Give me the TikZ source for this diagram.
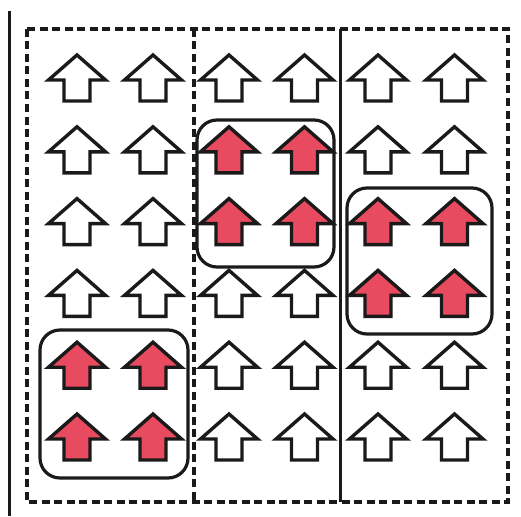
\documentclass[tikz,border=0pt]{standalone}
\definecolor{arrowred}{HTML}{E84B5F}
\definecolor{ink}{HTML}{1A1A1A}
\tikzset{
  x=1pt, y=-1pt,
  dashframe/.style={draw=ink, line width=3.4pt, dash pattern=on 8pt off 4.5pt},
  solidline/.style={draw=ink, line width=3pt},
  groupbox/.style={draw=ink, line width=3.2pt, rounded corners=20pt},
  pics/uparrow/.style={code={
    \draw[ink, line width=3.4pt, line join=miter, fill=#1]
      (0,0) -- (28.5,25) -- (13,25) -- (13,46) -- (-13,46) -- (-13,25) -- (-28.5,25) -- cycle;
  }},
}
\begin{document}
\begin{tikzpicture}
\useasboundingbox (0,0) rectangle (521,516);
% left solid line
\coordinate (lt) at (9.5,11);
\coordinate (lb) at (9.5,516);
\draw[solidline, line width=2.6pt] (lt) -- (lb);
% frame
\coordinate (ftl) at (27,29);
\coordinate (fbr) at (508,502);
\draw[dashframe] (ftl) rectangle (fbr);
\coordinate (d1t) at (194,29);
\coordinate (d1b) at (194,502);
\draw[dashframe] (d1t) -- (d1b);
\coordinate (d2t) at (340,29);
\coordinate (d2b) at (340,502);
\draw[solidline] (d2t) -- (d2b);
% arrows
\foreach \cx [count=\i] in {77,153,229,304.5,378,454.5}{
  \foreach \ty [count=\j] in {55,126.8,198.6,270.4,342.2,414}{
    \def\fc{white}
    \ifnum\i<3 \ifnum\j>4 \def\fc{arrowred}\fi\fi
    \ifnum\i>2 \ifnum\i<5 \ifnum\j>1 \ifnum\j<4 \def\fc{arrowred}\fi\fi\fi\fi
    \ifnum\i>4 \ifnum\j>2 \ifnum\j<5 \def\fc{arrowred}\fi\fi\fi
    \pic (a\i\j) at (\cx,\ty) {uparrow=\fc};
  }
}
% group boxes
\node[groupbox, minimum width=137pt, minimum height=147pt, inner sep=0pt] (gmid) at (265.5,193.5) {};
\node[groupbox, minimum width=145pt, minimum height=146pt, inner sep=0pt] (gright) at (419.5,261) {};
\node[groupbox, minimum width=148pt, minimum height=148pt, inner sep=0pt] (gleft) at (114,404) {};
\end{tikzpicture}
\end{document}
